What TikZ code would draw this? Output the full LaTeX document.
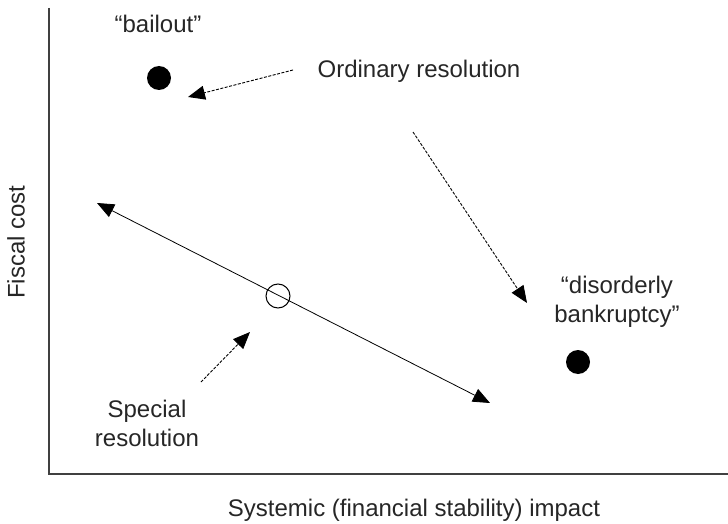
\documentclass[tikz,border=0pt]{standalone}
\usepackage{fontspec}
\setmainfont{Liberation Sans}
\usetikzlibrary{arrows.meta}

\begin{document}
\begin{tikzpicture}[x=1pt,y=-1pt,
    every node/.style={font=\fontsize{24}{29}\selectfont, align=center, inner sep=0pt, text=black!85},
    dot/.style={circle, fill=black, minimum size=24pt},
    ring/.style={circle, draw, line width=1pt, minimum size=24pt},
    tri/.tip={Triangle[length=17pt,width=14pt]},
    hint/.style={-tri, dash pattern=on 3pt off 1.5pt, line width=0.9pt}]
                \useasboundingbox (0,0) rectangle (728,524);
                % axes
                \coordinate (O) at (49,474);
                \coordinate (Y) at (49,8);
                \coordinate (X) at (728,474);
                \draw[line width=1.5pt, black!75] (Y) -- (O) -- (X);
                \node[rotate=90] (ylab) at (16,242) {Fiscal cost};
                \node (xlab) at (414,510) {Systemic (financial stability) impact};
                % the two extremes
                \node (bailouttxt) at (158,24) {``bailout''};
                \node[dot] (bailout) at (159,78) {};
                \node (disorderly) at (617,302) {``disorderly\\bankruptcy''};
                \node[dot] (bankrupt) at (578,362) {};
                % trade-off line
                \coordinate (L) at (97,203);
                \coordinate (R) at (490,403);
                \draw[tri-tri, line width=0.8pt] (L) -- (R);
                \node[ring] (special) at (278,296) {};
                % resolution regimes
                \node (ordinary) at (419,71) {Ordinary resolution};
                \coordinate (o1) at (293,70);
                \coordinate (o2) at (188,97);
                \draw[hint] (o1) -- (o2);
                \coordinate (o3) at (413,132);
                \coordinate (o4) at (527,303);
                \draw[hint] (o3) -- (o4);
                \node (specialtxt) at (147,423) {Special\\resolution};
                \coordinate (s1) at (201,382);
                \coordinate (s2) at (250,332);
                \draw[hint] (s1) -- (s2);
            \end{tikzpicture}
\end{document}
